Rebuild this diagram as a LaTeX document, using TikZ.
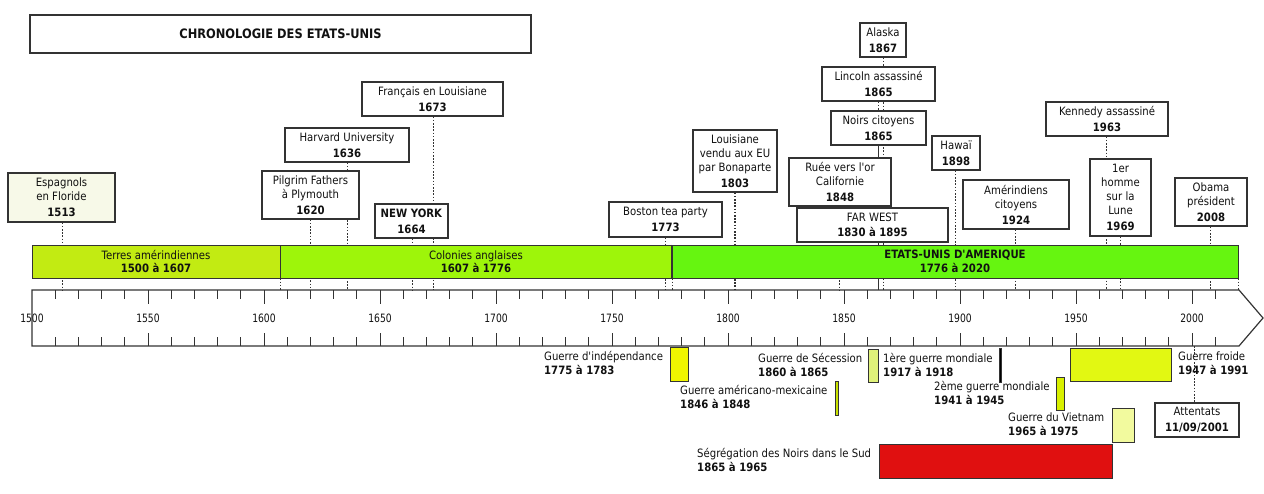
\documentclass[tikz,border=0pt]{standalone}
\usepackage{fontspec}
\setmainfont[FakeStretch=0.88,Ligatures=TeXOff]{DejaVu Sans}
\newfontfamily\tickfont[FakeStretch=0.8]{DejaVu Sans}
\newcommand\yx[1]{(32+(#1-1500)*2.32)}
\definecolor{boxc}{HTML}{333333}
\definecolor{txt}{HTML}{111111}
\definecolor{cTer}{HTML}{C2EB12}
\definecolor{cCol}{HTML}{9EF50A}
\definecolor{cEU}{HTML}{66F510}
\definecolor{cEsp}{HTML}{F7F9E8}
\definecolor{cInd}{HTML}{F0F500}
\definecolor{cSec}{HTML}{E0F27A}
\definecolor{cMex}{HTML}{C8E000}
\definecolor{cWWb}{HTML}{D8F000}
\definecolor{cFroid}{HTML}{E2F812}
\definecolor{cViet}{HTML}{F2FA9E}
\definecolor{cSeg}{HTML}{E01010}
\newcommand\EvBox[7][white]{%
  \node[evbox, fill=#1, minimum width={(#5-#3)*1pt}, minimum height={(#6-#4)*1pt}]
    (#2) at ({(#3+#5)/2},{(#4+#6)/2}) {#7};}
\newcommand\WarRect[6]{%
  \node[warrect, fill=#6, minimum width={(#4-#2)*1pt}, minimum height={(#5-#3)*1pt}]
    (#1) at ({(#2+#4)/2},{(#3+#5)/2}) {};}
\begin{document}
\begin{tikzpicture}[x=1pt,y=-1pt,
  evbox/.style={draw=boxc, line width=1.2pt, inner sep=0pt, align=center,
    font=\fontsize{11.5}{14}\selectfont, text=txt},
  bar/.style={draw=boxc, line width=0.9pt, inner sep=0pt, align=center,
    font=\fontsize{11.5}{13.5}\selectfont, text=txt},
  warrect/.style={draw=boxc, line width=1pt, inner sep=0pt},
  lab/.style={inner sep=0pt, align=left, anchor=north west,
    font=\fontsize{11.5}{14}\selectfont, text=txt},
  evline/.style={draw=boxc, line width=1.1pt, dash pattern=on 1.6pt off 1.6pt},
  solidline/.style={draw=boxc, line width=1.1pt},
  axisline/.style={draw=boxc, line width=1.2pt},
  tick/.style={draw=boxc, line width=1pt},
  ticklabel/.style={inner sep=0pt, font=\tickfont\fontsize{11.5}{13}\selectfont, text=txt}
]
\useasboundingbox (0,0) rectangle (1264,493);

% event coordinates on the axis top
\foreach \e in {1513,1607,1620,1636,1664,1673,1773,1776,1803,1848,1865,1867,1898,1924,1963,1969,2008,2020}
  \coordinate (y\e) at ({\yx{\e}},290);
\coordinate (a2001) at ({\yx{2001}},346);

% Title
\EvBox{title}{30}{15}{531}{53}{\fontsize{13}{15}\selectfont\textbf{CHRONOLOGIE DES ETATS-UNIS}}

% invisible placeholders so that connectors can be drawn below the boxes
\begin{scope}[opacity=0]
\EvBox{esp}{8}{173}{115}{222}{}
\EvBox{pil}{262}{171}{359}{219}{}
\EvBox{har}{285}{128}{409}{162}{}
\EvBox{ny}{375}{204}{448}{238}{}
\EvBox{fr}{362}{82}{503}{116}{}
\EvBox{bos}{609}{202}{722}{237}{}
\EvBox{lou}{693}{130}{777}{192}{}
\EvBox{ala}{860}{23}{906}{57}{}
\EvBox{lin}{822}{67}{935}{101}{}
\EvBox{noi}{831}{111}{926}{145}{}
\EvBox{rue}{789}{158}{891}{206}{}
\EvBox{haw}{932}{136}{980}{170}{}
\EvBox{ame}{963}{180}{1069}{229}{}
\EvBox{ken}{1046}{102}{1168}{136}{}
\EvBox{lun}{1090}{159}{1151}{236}{}
\EvBox{oba}{1175}{178}{1247}{226}{}
\EvBox{att}{1155}{403}{1239}{437}{}
\end{scope}

% connectors
\draw[evline] (esp.south -| y1513) -- (y1513);
\draw[evline] (pil.south -| y1620) -- (y1620);
\draw[evline] (har.south -| y1636) -- (y1636);
\draw[evline] (ny.south -| y1664) -- (y1664);
\draw[evline] (fr.south -| y1673) -- (y1673);
\draw[evline] (bos.south -| y1773) -- (y1773);
\draw[evline] (lou.south -| y1803) -- (y1803);
\draw[evline] (rue.south -| y1848) -- (y1848);
\draw[evline] (lin.south -| y1865) -- (noi.north -| y1865);
\draw[solidline] (noi.south -| y1865) -- (y1865);
\draw[evline] (ala.south -| y1867) -- (y1867);
\draw[evline] (haw.south -| y1898) -- (y1898);
\draw[evline] (ame.south -| y1924) -- (y1924);
\draw[evline] (ken.south -| y1963) -- (y1963);
\draw[evline] (lun.south -| y1969) -- (y1969);
\draw[evline] (oba.south -| y2008) -- (y2008);
\draw[evline] (a2001) -- (att.north -| a2001);

% era bars
\node[bar, fill=cTer, minimum width=248pt, minimum height=33pt] (ter) at (156,261.5)
  {Terres amérindiennes\\\textbf{1500 à 1607}};
\node[bar, fill=cCol, minimum width=392pt, minimum height=33pt] (col) at (476,261.5)
  {Colonies anglaises\\\textbf{1607 à 1776}};
\node[bar, fill=cEU, minimum width=566pt, minimum height=33pt] (eu) at (955,261.5)
  {\textbf{ETATS-UNIS D'AMERIQUE}\\\textbf{1776 à 2020}};
\draw[boxc, line width=1.8pt] (eu.north west) -- (eu.south west);
\draw[evline] (ter.south -| y1607) -- (y1607);
\draw[evline] (col.south -| y1776) -- (y1776);
\draw[evline] (eu.south -| y2020) -- (y2020);

% event boxes
\EvBox[cEsp]{esp}{8}{173}{115}{222}{Espagnols\\en Floride\\[2pt]\textbf{1513}}
\EvBox{pil}{262}{171}{359}{219}{Pilgrim Fathers\\à Plymouth\\[2pt]\textbf{1620}}
\EvBox{har}{285}{128}{409}{162}{Harvard University\\[2pt]\textbf{1636}}
\EvBox{ny}{375}{204}{448}{238}{\textbf{NEW YORK}\\[2pt]\textbf{1664}}
\EvBox{fr}{362}{82}{503}{116}{Français en Louisiane\\[2pt]\textbf{1673}}
\EvBox{bos}{609}{202}{722}{237}{Boston tea party\\[2pt]\textbf{1773}}
\EvBox{lou}{693}{130}{777}{192}{Louisiane\\vendu aux EU\\par Bonaparte\\[2pt]\textbf{1803}}
\EvBox{ala}{860}{23}{906}{57}{Alaska\\[2pt]\textbf{1867}}
\EvBox{lin}{822}{67}{935}{101}{Lincoln assassiné\\[2pt]\textbf{1865}}
\EvBox{noi}{831}{111}{926}{145}{Noirs citoyens\\[2pt]\textbf{1865}}
\EvBox{rue}{789}{158}{891}{206}{Ruée vers l'or\\Californie\\[2pt]\textbf{1848}}
\EvBox{far}{797}{208}{948}{242}{FAR WEST\\[1pt]\textbf{1830 à 1895}}
\EvBox{haw}{932}{136}{980}{170}{Hawaï\\[2pt]\textbf{1898}}
\EvBox{ame}{963}{180}{1069}{229}{Amérindiens\\citoyens\\[2pt]\textbf{1924}}
\EvBox{ken}{1046}{102}{1168}{136}{Kennedy assassiné\\[2pt]\textbf{1963}}
\EvBox{lun}{1090}{159}{1151}{236}{1er\\homme\\sur la\\Lune\\[2pt]\textbf{1969}}
\EvBox{oba}{1175}{178}{1247}{226}{Obama\\président\\[2pt]\textbf{2008}}
\EvBox{att}{1155}{403}{1239}{437}{Attentats\\[2pt]\textbf{11/09/2001}}

% axis
\draw[axisline] (32,290) -- (1239,290) -- (1263,318) -- (1239,346) -- (32,346) -- cycle;
\foreach \y in {1510,1520,...,2010}
  \draw[tick] ({\yx{\y}},290) -- ++(0,9) ({\yx{\y}},346) -- ++(0,-9);
\foreach \y in {1550,1600,...,2000}
  \draw[tick] ({\yx{\y}},290) -- ++(0,14) ({\yx{\y}},346) -- ++(0,-13);
\foreach \y in {1500,1550,...,2000}
  \node[ticklabel] at ({\yx{\y}},318) {\y};

% wars
\WarRect{ind}{670.4}{347}{688.9}{381}{cInd}
\WarRect{sec}{868}{349}{878}{382}{cSec}
\WarRect{mex}{835}{381}{838.5}{415}{cMex}
\WarRect{wwa}{999.5}{348}{1001.5}{382}{black}
\WarRect{wwb}{1056}{377}{1064}{410}{cWWb}
\WarRect{froid}{1070}{348}{1171}{381}{cFroid}
\WarRect{viet}{1112}{408}{1134}{442}{cViet}
\WarRect{seg}{879}{444}{1112}{478}{cSeg}

\node[lab] (indl) at (544,351.5) {Guerre d'indépendance\\\textbf{1775 à 1783}};
\node[lab] (secl) at (758,353.5) {Guerre de Sécession\\\textbf{1860 à 1865}};
\node[lab] (mexl) at (680,385.5) {Guerre américano-mexicaine\\\textbf{1846 à 1848}};
\node[lab] (segl) at (697,448.5) {Ségrégation des Noirs dans le Sud\\\textbf{1865 à 1965}};
\node[lab] (wwal) at (883,353.5) {1ère guerre mondiale\\\textbf{1917 à 1918}};
\node[lab] (wwbl) at (934,381.5) {2ème guerre mondiale\\\textbf{1941 à 1945}};
\node[lab] (froidl) at (1178,351.5) {Guerre froide\\\textbf{1947 à 1991}};
\node[lab] (vietl) at (1008,412.5) {Guerre du Vietnam\\\textbf{1965 à 1975}};
\end{tikzpicture}
\end{document}
